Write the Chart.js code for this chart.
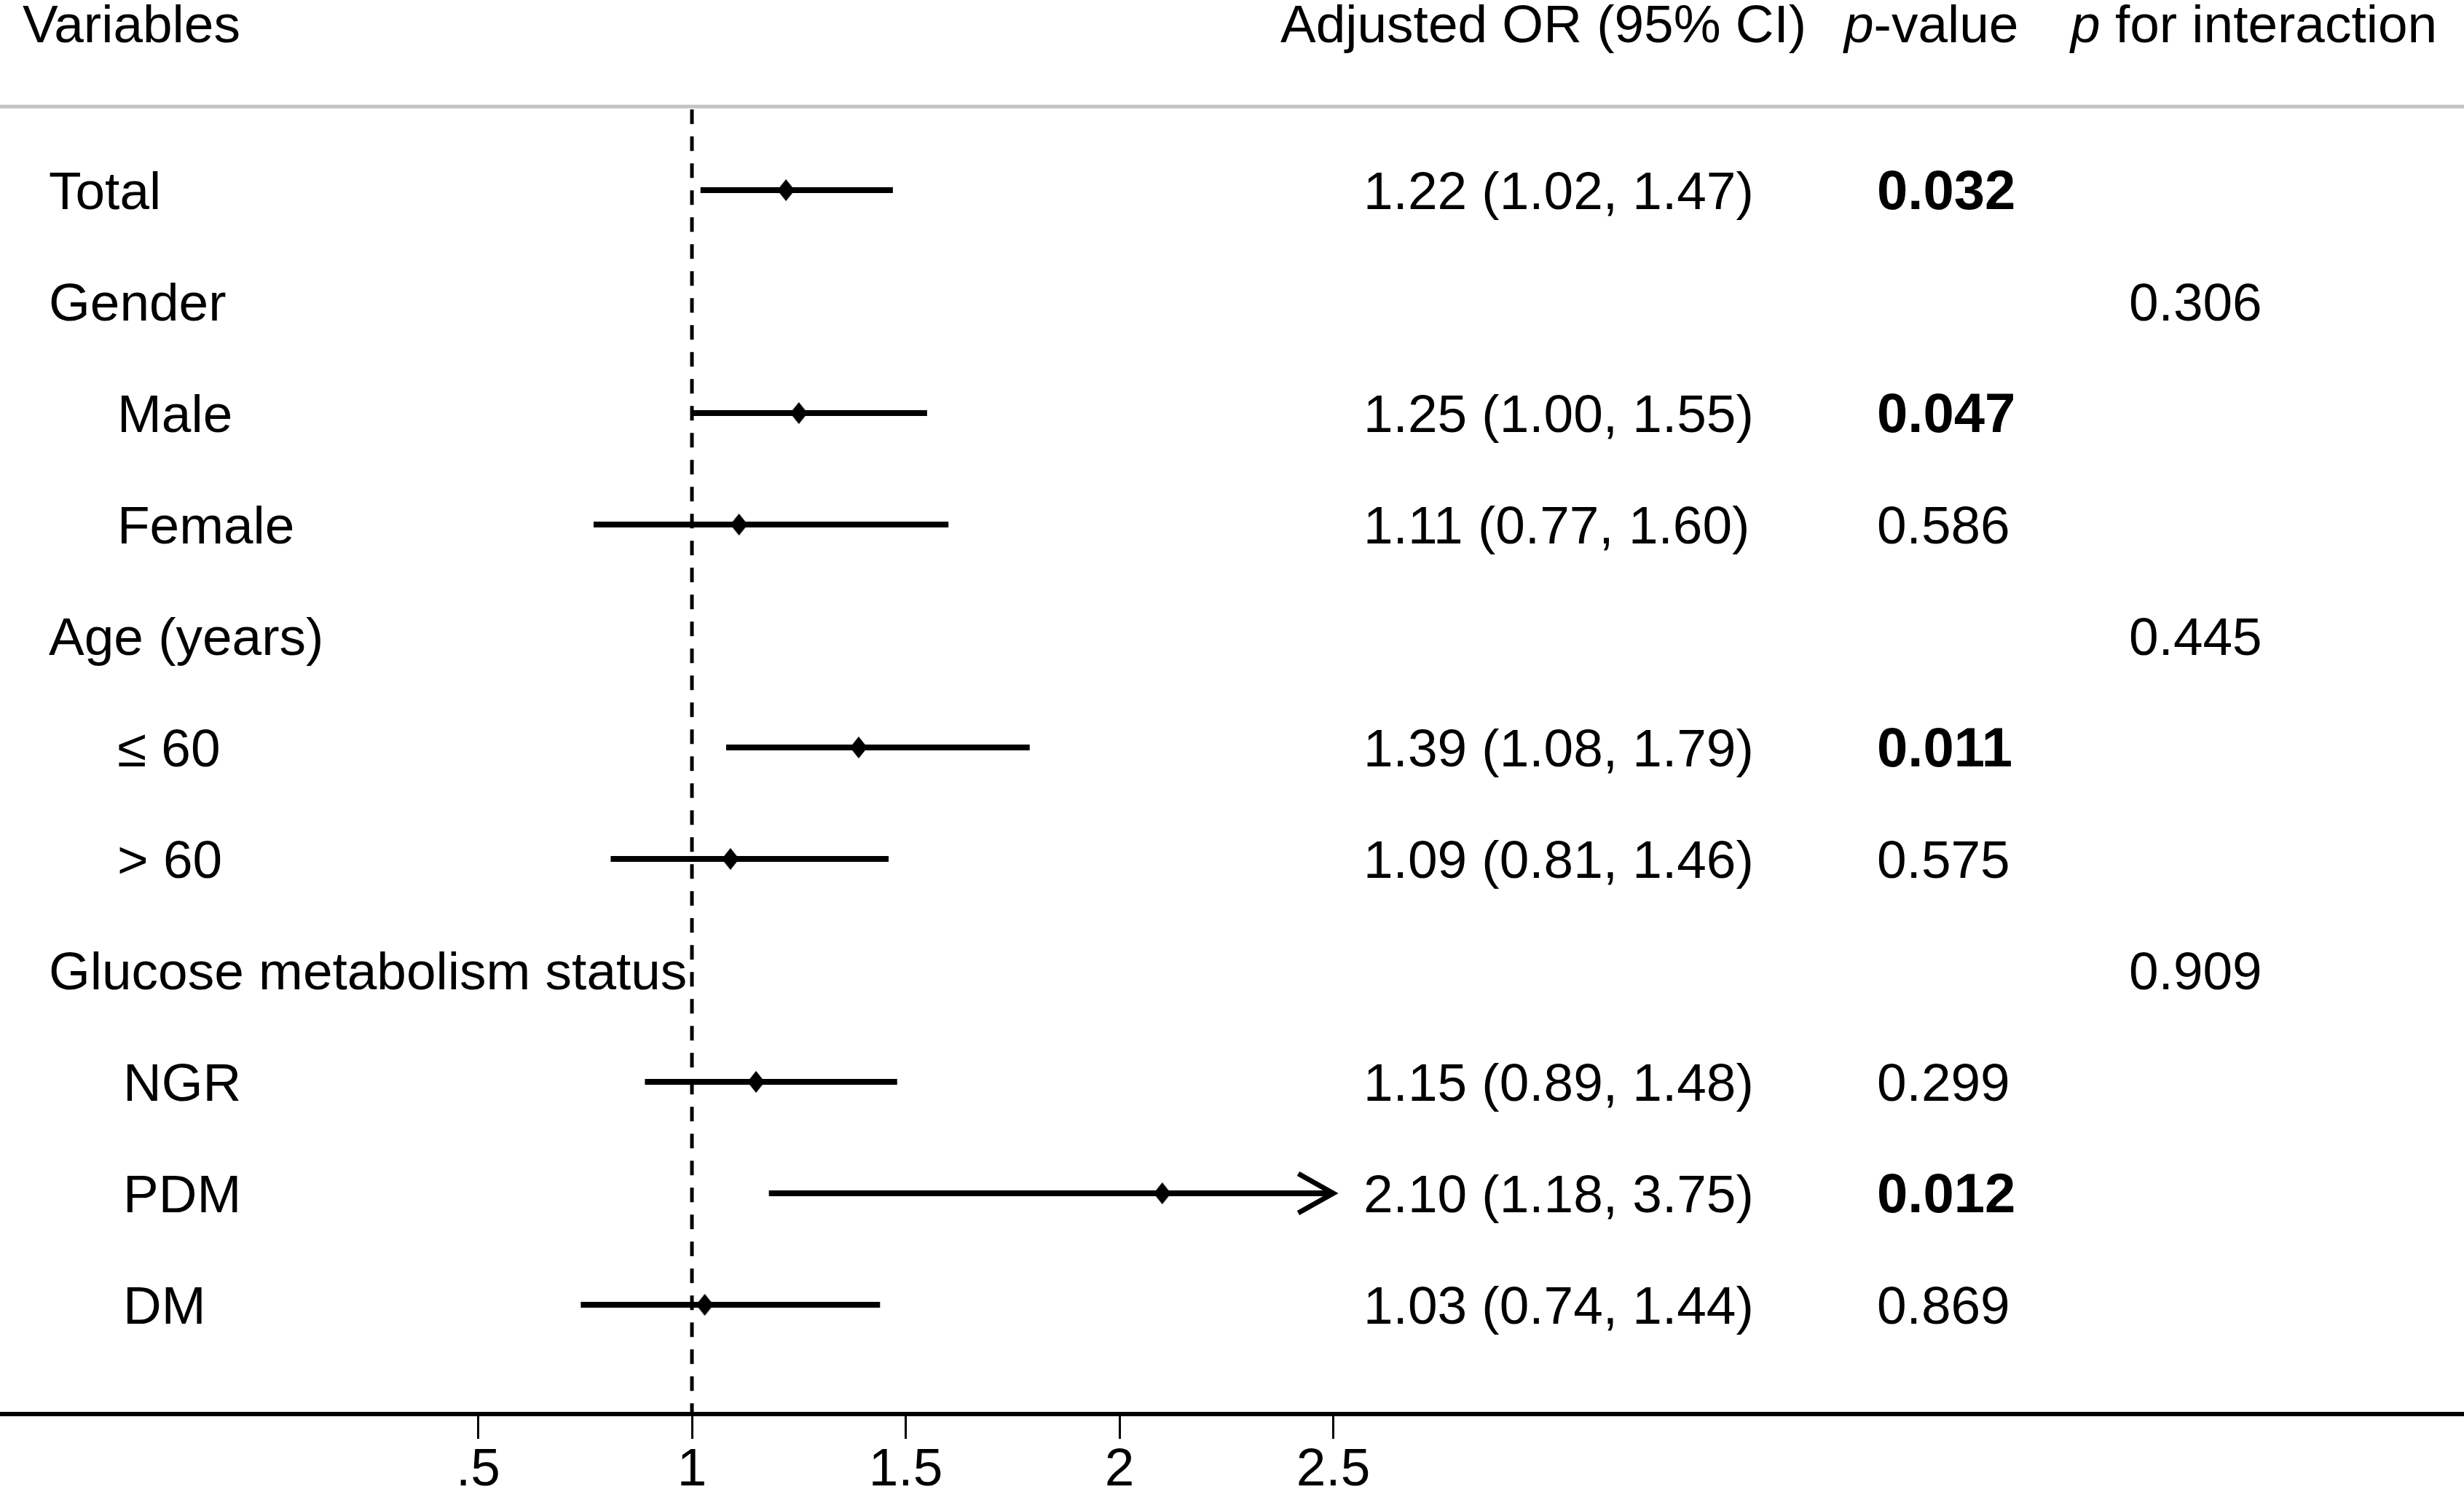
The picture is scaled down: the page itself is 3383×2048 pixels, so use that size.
<!DOCTYPE html>
<html><head><meta charset="utf-8">
<script src="https://cdn.jsdelivr.net/npm/chart.js@4.4.0/dist/chart.umd.min.js"></script>
<style>html,body{margin:0;padding:0;background:#fff;overflow:hidden}canvas{display:block}</style>
</head><body>
<canvas id="c" width="3383" height="2048"></canvas>
<script>
// ---------- data ----------
const categories = ['Total','Gender','Male','Female','Age (years)','\u2264 60','> 60','Glucose metabolism status','NGR','PDM','DM'];
const levels = [0,0,1,1,0,1,1,0,2,2,2];
const oddsRatios = [1.22,null,1.25,1.11,null,1.39,1.09,null,1.15,2.10,1.03];
const ciLower   = [1.02,null,1.00,0.77,null,1.08,0.81,null,0.89,1.18,0.74];
const ciUpper   = [1.47,null,1.55,1.60,null,1.79,1.46,null,1.48,3.75,1.44];
const pValues   = ['0.032','','0.047','0.586','','0.011','0.575','','0.299','0.012','0.869'];
const pInteraction = ['','0.306','','','0.445','','','0.909','','',''];
const tickValues = [0.5,1,1.5,2,2.5];
const tickLabels = ['.5','1','1.5','2','2.5'];
const referenceValue = 1;
const headerVariables = 'Variables';
const headerOR = 'Adjusted OR (95% CI)';
const headerP = ['p','-value'];
const headerInteraction = ['p',' for interaction'];

// ---------- layout / style ----------
const FONT = "'Liberation Sans', Arial, Helvetica, sans-serif";
const REG = '73px ' + FONT, BOLD = 'bold 76px ' + FONT, ITAL = 'italic 73px ' + FONT;
const X_MIN = -0.6184, X_MAX = 5.1448;
const Y_MIN = -1.7059, Y_MAX = 10.98;
const HEADER_ROW = -1.5, HEADER_RULE = -0.75;
const CAP_HALF = 26;
const LEVEL_X = [67, 161, 169];
const COL_OR = 1872, COL_P = 2577, COL_INT = 2923, COL_PHEAD = 2532, COL_INTHEAD = 2843, COL_ORHEAD = 1758, COL_VAR = 31;
const clipMax = tickValues[tickValues.length - 1];

Chart.defaults.font.family = FONT;

const diamond = document.createElement('canvas');
diamond.width = 24; diamond.height = 30;
(function(){const d = diamond.getContext('2d'); d.fillStyle = '#000'; d.beginPath();
  d.moveTo(12,0); d.lineTo(24,15); d.lineTo(12,30); d.lineTo(0,15); d.closePath(); d.fill();})();

const datasets = [];
datasets.push({
  label: 'OR',
  data: oddsRatios.map((v,i)=> v==null ? null : {x:v, y:i}).filter(p=>p),
  pointStyle: diamond, pointRadius: 14, pointHoverRadius: 14,
  backgroundColor: '#000', borderColor: '#000', borderWidth: 0, showLine: false, order: 0
});
oddsRatios.forEach((v,i)=>{
  if (v == null) return;
  datasets.push({
    label: 'CI ' + categories[i],
    data: [{x: ciLower[i], y: i}, {x: Math.min(ciUpper[i], clipMax), y: i}],
    showLine: true, borderColor: '#000', borderWidth: 8, pointRadius: 0, pointHoverRadius: 0,
    borderCapStyle: 'butt', order: 1
  });
});

const forestPlugin = {
  id: 'forest',
  beforeDatasetsDraw(chart) {
    const {ctx, chartArea, scales:{x, y}} = chart;
    const px = Math.round(x.getPixelForValue(referenceValue));
    ctx.save();
    ctx.strokeStyle = '#000'; ctx.lineWidth = 5; ctx.setLineDash([20,17]);
    ctx.beginPath();
    ctx.moveTo(px, y.getPixelForValue(HEADER_RULE) + 4);
    ctx.lineTo(px, chartArea.bottom);
    ctx.stroke();
    ctx.restore();
  },
  afterDatasetsDraw(chart) {
    const {ctx, scales:{x, y}} = chart;
    ctx.save();
    ctx.strokeStyle = '#000'; ctx.lineWidth = 7; ctx.lineJoin = 'miter'; ctx.lineCap = 'butt';
    ciUpper.forEach((hi,i)=>{
      if (hi == null || hi <= clipMax) return;
      const tip = x.getPixelForValue(clipMax), ry = y.getPixelForValue(i);
      ctx.beginPath();
      ctx.moveTo(tip - 48, ry - 27); ctx.lineTo(tip, ry); ctx.lineTo(tip - 48, ry + 27);
      ctx.stroke();
    });
    ctx.restore();
  },
  afterDraw(chart) {
    const {ctx, scales:{x, y}} = chart;
    const W = chart.width;
    ctx.save();
    // header rule
    const hr = y.getPixelForValue(HEADER_RULE);
    ctx.strokeStyle = '#c4c4c4'; ctx.lineWidth = 5;
    ctx.beginPath(); ctx.moveTo(0, hr); ctx.lineTo(W, hr); ctx.stroke();
    ctx.fillStyle = '#000'; ctx.textBaseline = 'alphabetic'; ctx.textAlign = 'left';
    // headers
    const hb = y.getPixelForValue(HEADER_ROW) + CAP_HALF;
    ctx.font = REG;
    ctx.fillText(headerVariables, COL_VAR, hb);
    ctx.fillText(headerOR, COL_ORHEAD, hb);
    ctx.font = ITAL; ctx.fillText(headerP[0], COL_PHEAD, hb);
    let w = ctx.measureText(headerP[0]).width;
    ctx.font = REG; ctx.fillText(headerP[1], COL_PHEAD + w, hb);
    ctx.font = ITAL; ctx.fillText(headerInteraction[0], COL_INTHEAD, hb);
    w = ctx.measureText(headerInteraction[0]).width;
    ctx.font = REG; ctx.fillText(headerInteraction[1], COL_INTHEAD + w, hb);
    // rows
    categories.forEach((cat,i)=>{
      const b = y.getPixelForValue(i) + CAP_HALF;
      ctx.font = REG;
      ctx.fillText(cat, LEVEL_X[levels[i]], b);
      if (oddsRatios[i] != null) {
        ctx.fillText(oddsRatios[i].toFixed(2) + ' (' + ciLower[i].toFixed(2) + ', ' + ciUpper[i].toFixed(2) + ')', COL_OR, b);
      }
      if (pValues[i]) {
        ctx.font = parseFloat(pValues[i]) < 0.05 ? BOLD : REG;
        ctx.fillText(pValues[i], COL_P, b);
      }
      if (pInteraction[i]) {
        ctx.font = parseFloat(pInteraction[i]) < 0.05 ? BOLD : REG;
        ctx.fillText(pInteraction[i], COL_INT, b);
      }
    });
    ctx.restore();
  }
};

new Chart(document.getElementById('c'), {
  type: 'scatter',
  data: { datasets },
  options: {
    responsive: false, devicePixelRatio: 1, animation: false,
    layout: { padding: 0, autoPadding: false },
    plugins: { legend: { display: false }, tooltip: { enabled: false } },
    scales: {
      x: {
        type: 'linear', position: 'bottom', min: X_MIN, max: X_MAX,
        afterBuildTicks: s => { s.ticks = tickValues.map(v => ({value: v})); },
        afterFit: s => { s.height = 107; },
        ticks: { autoSkip: false, maxRotation: 0, minRotation: 0, padding: 0, color: '#000',
                 font: { family: FONT, size: 73 },
                 callback: v => tickLabels[tickValues.indexOf(v)] },
        grid: { drawOnChartArea: false, drawTicks: true, tickLength: 34, tickWidth: 3, tickColor: '#000' },
        border: { display: true, color: '#000', width: 6 }
      },
      y: { type: 'linear', display: false, reverse: true, min: Y_MIN, max: Y_MAX }
    }
  },
  plugins: [forestPlugin]
});
</script>
</body></html>
